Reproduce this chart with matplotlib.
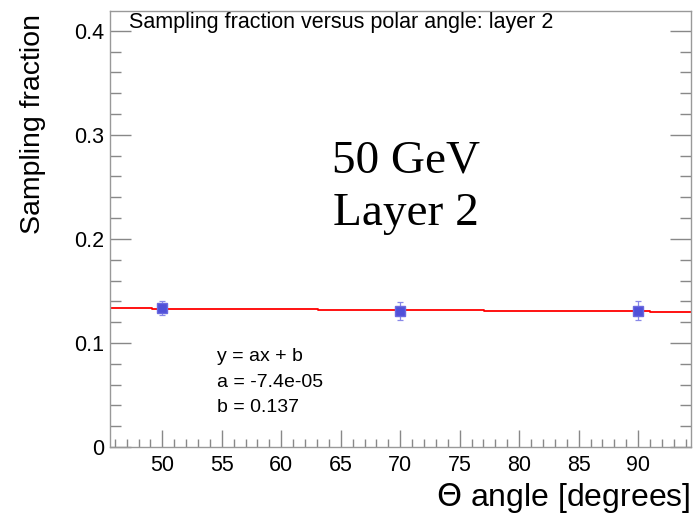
import numpy as np
import matplotlib
matplotlib.use('Agg')
import matplotlib.pyplot as plt
from matplotlib.ticker import MultipleLocator

# measured points
theta = [50, 70, 90]
frac = [0.1335, 0.1310, 0.1310]
frac_err = [0.0065, 0.0085, 0.0090]

# fit result shown on the plot
fit_a = -7.4e-05
fit_b = 0.137

plt.rcParams['font.family'] = ['Liberation Sans', 'DejaVu Sans']

fig = plt.figure(figsize=(6.94, 5.19), dpi=100)
ax = fig.add_axes([0.1585, 0.1387, 0.8372, 0.8401])

xmin, xmax = 45.6, 94.45
# fit function drawn in coarse steps, ROOT style
xf = np.linspace(xmin, xmax, 8)
ax.plot(xf, fit_a * xf + fit_b, color='red', lw=1.3, drawstyle='steps-mid', zorder=2)

ax.errorbar(theta, frac, yerr=frac_err, fmt='s', color='#5050d8', ms=6.5,
            mec='#6a6ae0', ecolor='#8888e8', elinewidth=0.9, capsize=2, capthick=0.9, zorder=3)

ax.set_xlim(xmin, xmax)
ax.set_ylim(0, 0.419)
ax.xaxis.set_major_locator(MultipleLocator(5))
ax.xaxis.set_minor_locator(MultipleLocator(1))
ax.yaxis.set_minor_locator(MultipleLocator(0.02))
ax.set_yticks([0, 0.1, 0.2, 0.3, 0.4])
ax.set_yticklabels(['0', '0.1', '0.2', '0.3', '0.4'])
ax.tick_params(which='both', direction='in', right=True, top=False, colors='#888888',
               labelcolor='black', labelsize=15.5, width=1)
ax.tick_params(axis='y', which='major', length=15, pad=4)
ax.tick_params(axis='y', which='minor', length=8)
ax.tick_params(axis='x', which='major', length=12, pad=6)
ax.tick_params(axis='x', which='minor', length=6)
for s in ax.spines.values():
    s.set_color('#999999')
    s.set_linewidth(1)

# axis titles placed by hand, ROOT puts them at the far ends
fig.text(33 / 694, 1 - 14 / 519, 'Sampling fraction', fontsize=20.5, rotation=90,
         ha='center', va='top')
fig.text(690 / 694, 1 - 498 / 519, r'$\Theta$ angle [degrees]', fontsize=23,
         ha='right', va='center')

ax.text(0.033, 0.997, 'Sampling fraction versus polar angle: layer 2', transform=ax.transAxes,
        fontsize=15.5, ha='left', va='top')
ax.text(0.51, 0.595, '50 GeV\nLayer 2', transform=ax.transAxes, fontsize=34,
        family='Liberation Serif', ha='center', va='center', linespacing=1.32)

ax.text(0.185, 0.208, 'y = ax + b', transform=ax.transAxes, fontsize=14, va='center')
ax.text(0.185, 0.148, 'a = -7.4e-05', transform=ax.transAxes, fontsize=14, va='center')
ax.text(0.185, 0.090, 'b = 0.137', transform=ax.transAxes, fontsize=14, va='center')

fig.savefig('out.png', dpi=100)
